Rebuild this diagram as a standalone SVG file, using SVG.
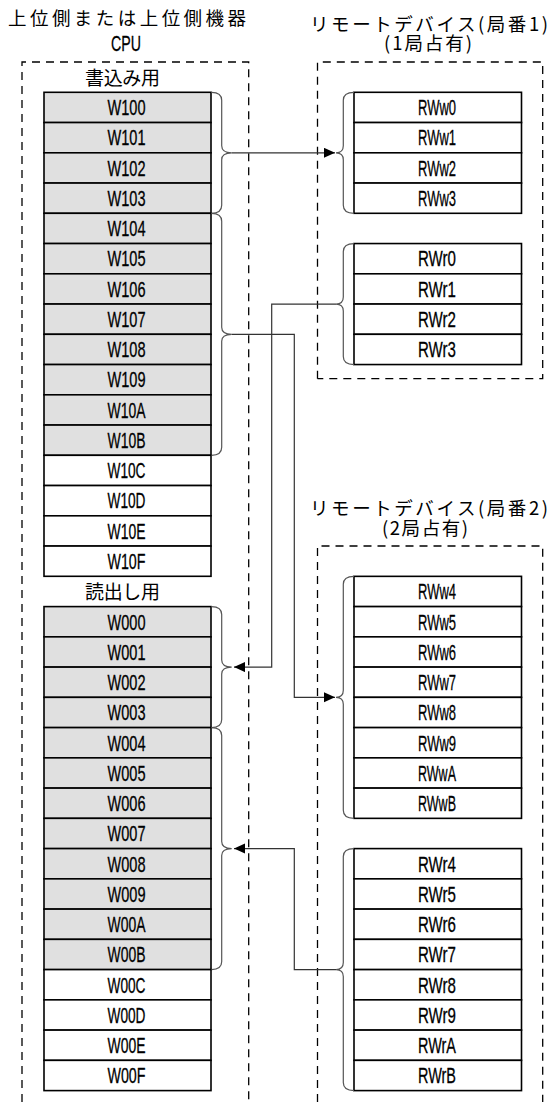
<svg xmlns="http://www.w3.org/2000/svg" width="552" height="1102" viewBox="0 0 552 1102">
<defs>
<style>
.bg{fill:#fff}
.g{fill:#e0e0e0;stroke:#000;stroke-width:1.6}
.w{fill:#fff;stroke:#000;stroke-width:1.6}
.t{font-family:"Liberation Sans",Arial,sans-serif;font-size:22px;fill:#000;stroke:#000;stroke-width:0.3;text-anchor:middle}
.j{font-family:"Noto Sans CJK JP","Noto Sans CJK SC",sans-serif;font-size:18.5px;fill:#000}
.jl{font-family:"Noto Sans CJK JP","Noto Sans CJK SC",sans-serif;font-size:19px;fill:#000}
.dash{fill:none;stroke:#000;stroke-width:1.3;stroke-dasharray:8 6}
.brace{fill:none;stroke:#555;stroke-width:1.2}
.conn{fill:none;stroke:#333;stroke-width:1.2}
</style>
<marker id="arr" markerUnits="userSpaceOnUse" markerWidth="12" markerHeight="11" refX="11" refY="5" orient="auto">
<path d="M0,0 L11,5 L0,10 Z" fill="#000"/>
</marker>
</defs>
<rect class="bg" x="0" y="0" width="552" height="1102"/>

<g id="headers">
<text class="j" x="8" y="25" textLength="238" lengthAdjust="spacing">上位側または上位側機器</text>
<text class="t" x="126" y="51" textLength="30" lengthAdjust="spacingAndGlyphs">CPU</text>
<text class="j"><tspan x="310" y="30.5" textLength="238" lengthAdjust="spacing">リモートデバイス(局番1)</tspan><tspan x="384" y="50" textLength="88" lengthAdjust="spacing">(1局占有)</tspan></text>
<text class="j"><tspan x="310" y="515" textLength="238" lengthAdjust="spacing">リモートデバイス(局番2)</tspan><tspan x="382" y="535" textLength="86" lengthAdjust="spacing">(2局占有)</tspan></text>
</g>

<g id="frames">
<path class="dash" d="M22,1102 V62 H248.7 V1102"/>
<path class="dash" d="M317.5,378.7 V62 H542.7 V378.7 H317.5"/>
<path class="dash" d="M317.5,1102 V546 H542.7 V1102"/>
</g>

<g id="cpu-write">
<text class="jl" x="85" y="85" textLength="75" lengthAdjust="spacing">書込み用</text>
<g id="W100"><rect class="g" x="44" y="92.3" width="167" height="30.25"/><text class="t" x="126.5" y="115.2" textLength="38" lengthAdjust="spacingAndGlyphs">W100</text></g>
<g id="W101"><rect class="g" x="44" y="122.55" width="167" height="30.25"/><text class="t" x="126.5" y="145.45" textLength="38" lengthAdjust="spacingAndGlyphs">W101</text></g>
<g id="W102"><rect class="g" x="44" y="152.8" width="167" height="30.25"/><text class="t" x="126.5" y="175.7" textLength="38" lengthAdjust="spacingAndGlyphs">W102</text></g>
<g id="W103"><rect class="g" x="44" y="183.05" width="167" height="30.25"/><text class="t" x="126.5" y="205.95" textLength="38" lengthAdjust="spacingAndGlyphs">W103</text></g>
<g id="W104"><rect class="g" x="44" y="213.3" width="167" height="30.25"/><text class="t" x="126.5" y="236.2" textLength="38" lengthAdjust="spacingAndGlyphs">W104</text></g>
<g id="W105"><rect class="g" x="44" y="243.55" width="167" height="30.25"/><text class="t" x="126.5" y="266.45" textLength="38" lengthAdjust="spacingAndGlyphs">W105</text></g>
<g id="W106"><rect class="g" x="44" y="273.8" width="167" height="30.25"/><text class="t" x="126.5" y="296.7" textLength="38" lengthAdjust="spacingAndGlyphs">W106</text></g>
<g id="W107"><rect class="g" x="44" y="304.05" width="167" height="30.25"/><text class="t" x="126.5" y="326.95" textLength="38" lengthAdjust="spacingAndGlyphs">W107</text></g>
<g id="W108"><rect class="g" x="44" y="334.3" width="167" height="30.25"/><text class="t" x="126.5" y="357.2" textLength="38" lengthAdjust="spacingAndGlyphs">W108</text></g>
<g id="W109"><rect class="g" x="44" y="364.55" width="167" height="30.25"/><text class="t" x="126.5" y="387.45" textLength="38" lengthAdjust="spacingAndGlyphs">W109</text></g>
<g id="W10A"><rect class="g" x="44" y="394.8" width="167" height="30.25"/><text class="t" x="126.5" y="417.7" textLength="38" lengthAdjust="spacingAndGlyphs">W10A</text></g>
<g id="W10B"><rect class="g" x="44" y="425.05" width="167" height="30.25"/><text class="t" x="126.5" y="447.95" textLength="38" lengthAdjust="spacingAndGlyphs">W10B</text></g>
<g id="W10C"><rect class="w" x="44" y="455.3" width="167" height="30.25"/><text class="t" x="126.5" y="478.2" textLength="38" lengthAdjust="spacingAndGlyphs">W10C</text></g>
<g id="W10D"><rect class="w" x="44" y="485.55" width="167" height="30.25"/><text class="t" x="126.5" y="508.45" textLength="38" lengthAdjust="spacingAndGlyphs">W10D</text></g>
<g id="W10E"><rect class="w" x="44" y="515.8" width="167" height="30.25"/><text class="t" x="126.5" y="538.7" textLength="38" lengthAdjust="spacingAndGlyphs">W10E</text></g>
<g id="W10F"><rect class="w" x="44" y="546.05" width="167" height="30.25"/><text class="t" x="126.5" y="568.95" textLength="38" lengthAdjust="spacingAndGlyphs">W10F</text></g>
</g>

<g id="cpu-read">
<text class="jl" x="85" y="599" textLength="75" lengthAdjust="spacing">読出し用</text>
<g id="W000"><rect class="g" x="44" y="606.6" width="167" height="30.25"/><text class="t" x="126.5" y="629.5" textLength="38" lengthAdjust="spacingAndGlyphs">W000</text></g>
<g id="W001"><rect class="g" x="44" y="636.85" width="167" height="30.25"/><text class="t" x="126.5" y="659.75" textLength="38" lengthAdjust="spacingAndGlyphs">W001</text></g>
<g id="W002"><rect class="g" x="44" y="667.1" width="167" height="30.25"/><text class="t" x="126.5" y="690" textLength="38" lengthAdjust="spacingAndGlyphs">W002</text></g>
<g id="W003"><rect class="g" x="44" y="697.35" width="167" height="30.25"/><text class="t" x="126.5" y="720.25" textLength="38" lengthAdjust="spacingAndGlyphs">W003</text></g>
<g id="W004"><rect class="g" x="44" y="727.6" width="167" height="30.25"/><text class="t" x="126.5" y="750.5" textLength="38" lengthAdjust="spacingAndGlyphs">W004</text></g>
<g id="W005"><rect class="g" x="44" y="757.85" width="167" height="30.25"/><text class="t" x="126.5" y="780.75" textLength="38" lengthAdjust="spacingAndGlyphs">W005</text></g>
<g id="W006"><rect class="g" x="44" y="788.1" width="167" height="30.25"/><text class="t" x="126.5" y="811" textLength="38" lengthAdjust="spacingAndGlyphs">W006</text></g>
<g id="W007"><rect class="g" x="44" y="818.35" width="167" height="30.25"/><text class="t" x="126.5" y="841.25" textLength="38" lengthAdjust="spacingAndGlyphs">W007</text></g>
<g id="W008"><rect class="g" x="44" y="848.6" width="167" height="30.25"/><text class="t" x="126.5" y="871.5" textLength="38" lengthAdjust="spacingAndGlyphs">W008</text></g>
<g id="W009"><rect class="g" x="44" y="878.85" width="167" height="30.25"/><text class="t" x="126.5" y="901.75" textLength="38" lengthAdjust="spacingAndGlyphs">W009</text></g>
<g id="W00A"><rect class="g" x="44" y="909.1" width="167" height="30.25"/><text class="t" x="126.5" y="932" textLength="38" lengthAdjust="spacingAndGlyphs">W00A</text></g>
<g id="W00B"><rect class="g" x="44" y="939.35" width="167" height="30.25"/><text class="t" x="126.5" y="962.25" textLength="38" lengthAdjust="spacingAndGlyphs">W00B</text></g>
<g id="W00C"><rect class="w" x="44" y="969.6" width="167" height="30.25"/><text class="t" x="126.5" y="992.5" textLength="38" lengthAdjust="spacingAndGlyphs">W00C</text></g>
<g id="W00D"><rect class="w" x="44" y="999.85" width="167" height="30.25"/><text class="t" x="126.5" y="1022.75" textLength="38" lengthAdjust="spacingAndGlyphs">W00D</text></g>
<g id="W00E"><rect class="w" x="44" y="1030.1" width="167" height="30.25"/><text class="t" x="126.5" y="1053" textLength="38" lengthAdjust="spacingAndGlyphs">W00E</text></g>
<g id="W00F"><rect class="w" x="44" y="1060.35" width="167" height="30.25"/><text class="t" x="126.5" y="1083.25" textLength="38" lengthAdjust="spacingAndGlyphs">W00F</text></g>
</g>

<g id="station1">
<g id="RWw0"><rect class="w" x="354" y="92.3" width="167.5" height="30.25"/><text class="t" x="437" y="115.2" textLength="38" lengthAdjust="spacingAndGlyphs">RWw0</text></g>
<g id="RWw1"><rect class="w" x="354" y="122.55" width="167.5" height="30.25"/><text class="t" x="437" y="145.45" textLength="38" lengthAdjust="spacingAndGlyphs">RWw1</text></g>
<g id="RWw2"><rect class="w" x="354" y="152.8" width="167.5" height="30.25"/><text class="t" x="437" y="175.7" textLength="38" lengthAdjust="spacingAndGlyphs">RWw2</text></g>
<g id="RWw3"><rect class="w" x="354" y="183.05" width="167.5" height="30.25"/><text class="t" x="437" y="205.95" textLength="38" lengthAdjust="spacingAndGlyphs">RWw3</text></g>
<g id="RWr0"><rect class="w" x="354" y="243.55" width="167.5" height="30.25"/><text class="t" x="437" y="266.45" textLength="38" lengthAdjust="spacingAndGlyphs">RWr0</text></g>
<g id="RWr1"><rect class="w" x="354" y="273.8" width="167.5" height="30.25"/><text class="t" x="437" y="296.7" textLength="38" lengthAdjust="spacingAndGlyphs">RWr1</text></g>
<g id="RWr2"><rect class="w" x="354" y="304.05" width="167.5" height="30.25"/><text class="t" x="437" y="326.95" textLength="38" lengthAdjust="spacingAndGlyphs">RWr2</text></g>
<g id="RWr3"><rect class="w" x="354" y="334.3" width="167.5" height="30.25"/><text class="t" x="437" y="357.2" textLength="38" lengthAdjust="spacingAndGlyphs">RWr3</text></g>
</g>

<g id="station2">
<g id="RWw4"><rect class="w" x="354" y="576.35" width="167.5" height="30.25"/><text class="t" x="437" y="599.25" textLength="38" lengthAdjust="spacingAndGlyphs">RWw4</text></g>
<g id="RWw5"><rect class="w" x="354" y="606.6" width="167.5" height="30.25"/><text class="t" x="437" y="629.5" textLength="38" lengthAdjust="spacingAndGlyphs">RWw5</text></g>
<g id="RWw6"><rect class="w" x="354" y="636.85" width="167.5" height="30.25"/><text class="t" x="437" y="659.75" textLength="38" lengthAdjust="spacingAndGlyphs">RWw6</text></g>
<g id="RWw7"><rect class="w" x="354" y="667.1" width="167.5" height="30.25"/><text class="t" x="437" y="690" textLength="38" lengthAdjust="spacingAndGlyphs">RWw7</text></g>
<g id="RWw8"><rect class="w" x="354" y="697.35" width="167.5" height="30.25"/><text class="t" x="437" y="720.25" textLength="38" lengthAdjust="spacingAndGlyphs">RWw8</text></g>
<g id="RWw9"><rect class="w" x="354" y="727.6" width="167.5" height="30.25"/><text class="t" x="437" y="750.5" textLength="38" lengthAdjust="spacingAndGlyphs">RWw9</text></g>
<g id="RWwA"><rect class="w" x="354" y="757.85" width="167.5" height="30.25"/><text class="t" x="437" y="780.75" textLength="38" lengthAdjust="spacingAndGlyphs">RWwA</text></g>
<g id="RWwB"><rect class="w" x="354" y="788.1" width="167.5" height="30.25"/><text class="t" x="437" y="811" textLength="38" lengthAdjust="spacingAndGlyphs">RWwB</text></g>
<g id="RWr4"><rect class="w" x="354" y="848.6" width="167.5" height="30.25"/><text class="t" x="437" y="871.5" textLength="38" lengthAdjust="spacingAndGlyphs">RWr4</text></g>
<g id="RWr5"><rect class="w" x="354" y="878.85" width="167.5" height="30.25"/><text class="t" x="437" y="901.75" textLength="38" lengthAdjust="spacingAndGlyphs">RWr5</text></g>
<g id="RWr6"><rect class="w" x="354" y="909.1" width="167.5" height="30.25"/><text class="t" x="437" y="932" textLength="38" lengthAdjust="spacingAndGlyphs">RWr6</text></g>
<g id="RWr7"><rect class="w" x="354" y="939.35" width="167.5" height="30.25"/><text class="t" x="437" y="962.25" textLength="38" lengthAdjust="spacingAndGlyphs">RWr7</text></g>
<g id="RWr8"><rect class="w" x="354" y="969.6" width="167.5" height="30.25"/><text class="t" x="437" y="992.5" textLength="38" lengthAdjust="spacingAndGlyphs">RWr8</text></g>
<g id="RWr9"><rect class="w" x="354" y="999.85" width="167.5" height="30.25"/><text class="t" x="437" y="1022.75" textLength="38" lengthAdjust="spacingAndGlyphs">RWr9</text></g>
<g id="RWrA"><rect class="w" x="354" y="1030.1" width="167.5" height="30.25"/><text class="t" x="437" y="1053" textLength="38" lengthAdjust="spacingAndGlyphs">RWrA</text></g>
<g id="RWrB"><rect class="w" x="354" y="1060.35" width="167.5" height="30.25"/><text class="t" x="437" y="1083.25" textLength="38" lengthAdjust="spacingAndGlyphs">RWrB</text></g>
</g>

<g id="braces">
<path class="brace" d="M211.5,92.3 Q221.7,92.3 221.7,100.3 V145.8 Q221.7,152.8 231.7,152.8 Q221.7,152.8 221.7,159.8 V205.3 Q221.7,213.3 211.5,213.3"/>
<path class="brace" d="M211.5,213.3 Q221.7,213.3 221.7,221.3 V327.3 Q221.7,334.3 231.7,334.3 Q221.7,334.3 221.7,341.3 V447.3 Q221.7,455.3 211.5,455.3"/>
<path class="brace" d="M211.5,606.6 Q221.7,606.6 221.7,614.6 V660.1 Q221.7,667.1 231.7,667.1 Q221.7,667.1 221.7,674.1 V719.6 Q221.7,727.6 211.5,727.6"/>
<path class="brace" d="M211.5,727.6 Q221.7,727.6 221.7,735.6 V841.6 Q221.7,848.6 231.7,848.6 Q221.7,848.6 221.7,855.6 V961.6 Q221.7,969.6 211.5,969.6"/>
<path class="brace" d="M354,92.3 Q343.3,92.3 343.3,100.3 V145.8 Q343.3,152.8 336,152.8 Q343.3,152.8 343.3,159.8 V205.3 Q343.3,213.3 354,213.3"/>
<path class="brace" d="M354,243.55 Q343.3,243.55 343.3,251.55 V297.05 Q343.3,304.05 336,304.05 Q343.3,304.05 343.3,311.05 V356.55 Q343.3,364.55 354,364.55"/>
<path class="brace" d="M354,576.35 Q343.3,576.35 343.3,584.35 V690.35 Q343.3,697.35 336,697.35 Q343.3,697.35 343.3,704.35 V810.35 Q343.3,818.35 354,818.35"/>
<path class="brace" d="M354,848.6 Q343.3,848.6 343.3,856.6 V962.6 Q343.3,969.6 336,969.6 Q343.3,969.6 343.3,976.6 V1082.6 Q343.3,1090.6 354,1090.6"/>
</g>

<g id="connectors">
<path class="conn" stroke="#000" d="M231.7,152.8 H335" marker-end="url(#arr)"/>
<path class="conn" d="M336,304.05 H271.7 V667.1 H234" marker-end="url(#arr)"/>
<path class="conn" d="M231.7,334.3 H294.3 V697.35 H335" marker-end="url(#arr)"/>
<path class="conn" d="M336,969.6 H294.3 V848.6 H234" marker-end="url(#arr)"/>
</g>
</svg>
